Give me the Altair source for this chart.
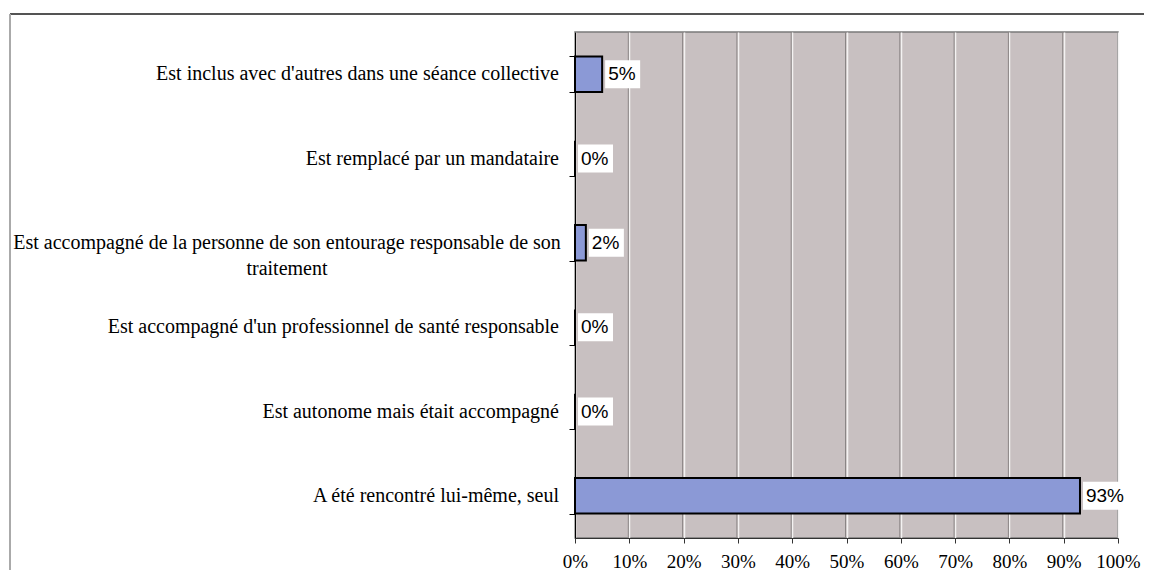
import altair as alt
import pandas as pd

categories = [
    "Est inclus avec d'autres dans une séance collective",
    "Est remplacé par un mandataire",
    "Est accompagné de la personne de son entourage responsable de son traitement",
    "Est accompagné d'un professionnel de santé responsable",
    "Est autonome mais était accompagné",
    "A été rencontré lui-même, seul",
]
display_labels = [
    "Est inclus avec d'autres dans une séance collective",
    "Est remplacé par un mandataire",
    "Est accompagné de la personne de son entourage responsable de son\ntraitement",
    "Est accompagné d'un professionnel de santé responsable",
    "Est autonome mais était accompagné",
    "A été rencontré lui-même, seul",
]
values = [5, 0, 2, 0, 0, 93]
wrapped = [False, False, True, False, False, False]
x_ticks = [0, 10, 20, 30, 40, 50, 60, 70, 80, 90, 100]

df = pd.DataFrame({"cat": categories, "disp": display_labels, "val": values, "wrap": wrapped})
df["txt"] = df["val"].astype(str) + "%"
grid_df = pd.DataFrame({"t": x_ticks[1:-1]})

W, H = 543, 506
serif = "Times New Roman, Liberation Serif, serif"
sans = "Arial, Liberation Sans, sans-serif"

yscale = alt.Scale(domain=categories, paddingInner=0.58, paddingOuter=0.29)
xscale = alt.Scale(domain=[0, 100], nice=False, zero=True)

base = alt.Chart(df)

grid_dark = alt.Chart(grid_df).mark_rule(color="#8a8585", strokeWidth=1, xOffset=-1).encode(
    x=alt.X("t:Q", scale=xscale)
)

bars = base.mark_bar(color="#8b99d6", stroke="#000000", strokeWidth=2).encode(
    y=alt.Y("cat:N", scale=yscale, sort=categories,
            axis=alt.Axis(title=None, labels=False, ticks=True, tickBand="extent",
                          tickSize=6, tickColor="#000000", domainColor="#000000",
                          domainWidth=1, grid=False)),
    x=alt.X("val:Q", scale=xscale,
            axis=alt.Axis(title=None, values=x_ticks, labelExpr="datum.value + '%'",
                          labelFont=serif, labelFontSize=19, labelColor="#000000",
                          labelOverlap=False, labelBound=False, labelFlush=False,
                          labelPadding=9, tickSize=5, tickColor="#333333",
                          domainColor="#333333", grid=True, gridColor="#f4f2f2",
                          gridWidth=1.5, gridOpacity=1)),
)

boxes = base.transform_calculate(
    box_end="datum.val + (length(datum.txt) > 2 ? 8.9 : 7.0)"
).mark_bar(color="#ffffff", size=28, xOffset=3).encode(
    y=alt.Y("cat:N", scale=yscale, sort=categories),
    x=alt.X("val:Q", scale=xscale),
    x2="box_end:Q",
)

vals = base.mark_text(align="left", baseline="middle", dx=6, font=sans, fontSize=19,
                      color="#000000").encode(
    y=alt.Y("cat:N", scale=yscale, sort=categories),
    x=alt.X("val:Q", scale=xscale),
    text="txt:N",
)

ylabels = base.transform_filter("!datum.wrap").mark_text(
    align="right", baseline="middle", font=serif, fontSize=20, color="#000000"
).encode(
    y=alt.Y("cat:N", scale=yscale, sort=categories),
    x=alt.value(-16),
    text="disp:N",
)

ylabels_wrapped = base.transform_filter("datum.wrap").mark_text(
    align="center", baseline="middle", font=serif, fontSize=20, color="#000000",
    lineBreak="\n", lineHeight=26
).encode(
    y=alt.Y("cat:N", scale=yscale, sort=categories),
    x=alt.value(-288),
    text="disp:N",
)

frame_top = base.mark_rule(color="#555555", strokeWidth=1.5).encode(
    x=alt.value(-565), x2=alt.value(600), y=alt.value(-18)
)
frame_left = base.mark_rule(color="#aaaaaa", strokeWidth=1.5).encode(
    x=alt.value(-565), y=alt.value(-18), y2=alt.value(560)
)

chart = alt.layer(frame_top, frame_left, grid_dark, bars, boxes, vals, ylabels, ylabels_wrapped).properties(
    width=W, height=H,
    autosize=alt.AutoSizeParams(type="none"),
    padding={"left": 567, "top": 24, "right": 26, "bottom": 32},
    background="#ffffff",
).configure_view(
    fill="#c8c0c1", stroke="#7a7a7a", strokeWidth=1.5
)

chart.save("out.html", embed_options={"renderer": "svg", "actions": False})
